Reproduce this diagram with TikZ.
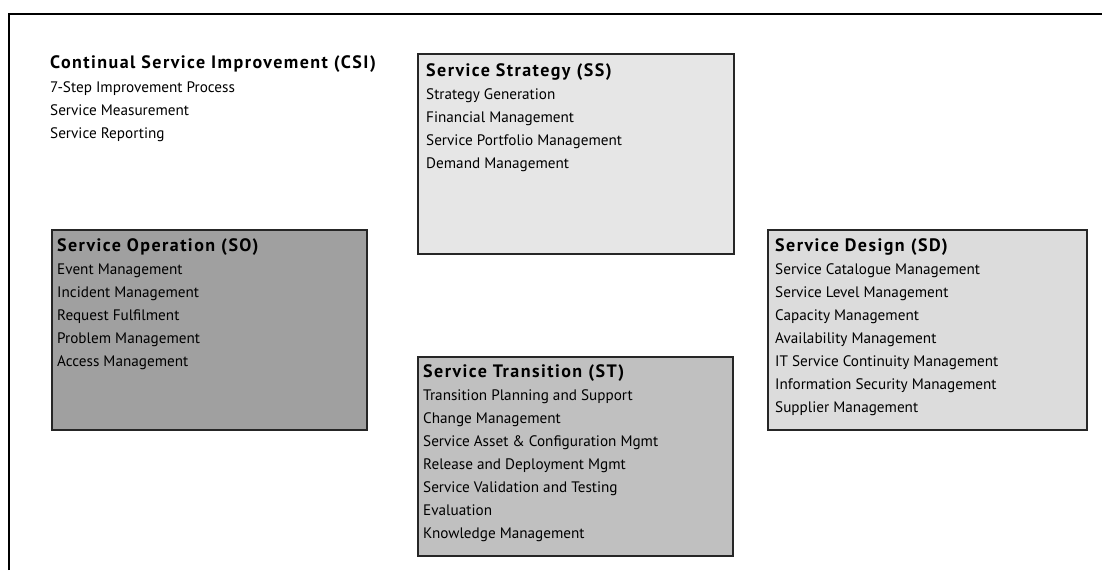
\documentclass[tikz,border=0pt]{standalone}
\usepackage{fontspec}
\setmainfont{PT Sans}
\newfontfamily\titlefont[LetterSpace=8]{PT Sans Bold}
\definecolor{ssfill}{HTML}{E6E6E6}
\definecolor{sofill}{HTML}{A0A0A0}
\definecolor{sdfill}{HTML}{DCDCDC}
\definecolor{stfill}{HTML}{C0C0C0}
\begin{document}
\begin{tikzpicture}[x=1pt,y=-1pt,
  box/.style={draw=black!85,line width=1.5pt,anchor=north west,inner sep=0pt},
  txt/.style={anchor=north west,inner sep=0pt,align=left,font=\fontsize{15.2}{23}\selectfont}]
\newcommand{\ttlfmt}[1]{{\titlefont\fontsize{18}{23}\selectfont #1}}
\useasboundingbox (0,0) rectangle (1102,570);
\draw[line width=2pt] (9,570) -- (9,14) -- (1102,14);
% boxes
\node[box,fill=ssfill,minimum width=316pt,minimum height=200pt] (ss) at (417,53) {};
\node[box,fill=sofill,minimum width=315pt,minimum height=200pt] (so) at (51,229) {};
\node[box,fill=sdfill,minimum width=319pt,minimum height=200pt] (sd) at (767,229) {};
\node[box,fill=stfill,minimum width=315pt,minimum height=199pt] (st) at (417,356) {};
% texts
\node[txt] (csit) at (50,55) {\ttlfmt{Continual Service Improvement (CSI)}\\[1pt]7-Step Improvement Process\\Service Measurement\\Service Reporting};
\node[txt] (sst) at ([shift={(9,10)}]ss.north west) {\ttlfmt{Service Strategy (SS)}\\Strategy Generation\\Financial Management\\Service Portfolio Management\\Demand Management};
\node[txt] (sot) at ([shift={(6,9)}]so.north west) {\ttlfmt{Service Operation (SO)}\\Event Management\\Incident Management\\Request Fulfilment\\Problem Management\\Access Management};
\node[txt] (sdt) at ([shift={(8,9)}]sd.north west) {\ttlfmt{Service Design (SD)}\\Service Catalogue Management\\Service Level Management\\Capacity Management\\Availability Management\\IT Service Continuity Management\\Information Security Management\\Supplier Management};
\node[txt] (stt) at ([shift={(6,8)}]st.north west) {\ttlfmt{Service Transition (ST)}\\Transition Planning and Support\\Change Management\\Service Asset \& Configuration Mgmt\\Release and Deployment Mgmt\\Service Validation and Testing\\Evaluation\\Knowledge Management};
\end{tikzpicture}
\end{document}
